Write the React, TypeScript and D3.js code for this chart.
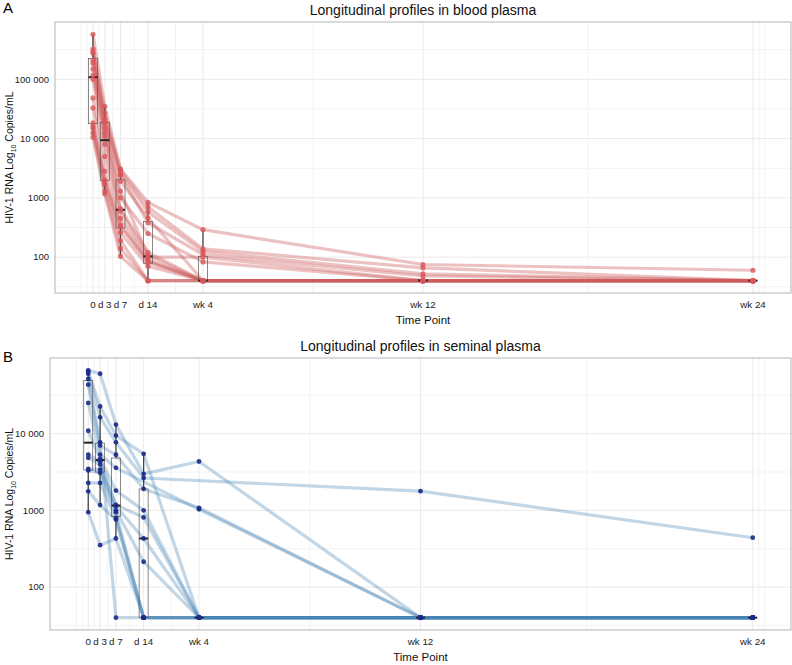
import React from "react";
import * as d3 from "d3";

// ---- data ----
const timeLabels = ["0", "d 3", "d 7", "d 14", "wk 4", "wk 12", "wk 24"];
const timeDays = [0, 3, 7, 14, 28, 84, 168];

// blood plasma: one row per participant, values at each time point (copies/mL)
const bloodPlasma: (number | null)[][] = [
  [575000, 35000, 3100, 837, 290, 75, 60],
  [324000, 27000, 2900, 700, 138, 66, 40],
  [290000, 22000, 2600, 580, 125, 52, 40],
  [278000, 19500, 2400, 380, 110, 48, 40],
  [210000, 18500, 1900, 460, 40, 40, 40],
  [187000, 15000, 1000, 250, 83, 40, 40],
  [150000, 12500, 1300, 106, 40, 40, 40],
  [118000, 11000, 660, 120, 40, 40, 40],
  [100000, 8000, 600, 100, 100, 40, 40],
  [48500, 5000, 450, 90, 40, 40, 40],
  [33000, 2800, 350, 85, 40, 40, 40],
  [18400, 2000, 330, 82, 40, 40, 40],
  [16300, 1900, 260, 70, 40, 40, 40],
  [15000, 1700, 190, 40, 40, 40, 40],
  [12500, 1300, 140, 40, 40, 40, 40],
  [10500, 1170, 103, 40, 40, 40, 40],
];

// seminal plasma
const seminalPlasma: (number | null)[][] = [
  [66700, 60300, 13100, 2990, 4330, 40, 40],
  [64100, 22600, 9420, 5450, 40, 40, 40],
  [60300, 16300, 7710, 2640, null, 1780, 440],
  [51600, 7710, 40, 40, 40, 40, 40],
  [43400, 6980, 5300, 1900, 1080, 40, 40],
  [25100, 5330, 3580, null, 1030, 40, 40],
  [10900, 4680, 1810, 1000, 40, 40, 40],
  [5330, 4360, 1180, 810, 40, 40, 40],
  [4830, 3950, 1130, 430, 40, 40, 40],
  [3470, 3400, 1000, 214, 40, 40, 40],
  [3310, 3080, 946, 40, 40, 40, 40],
  [2280, 2280, 795, 40, 40, 40, 40],
  [1770, 1170, 760, 40, 40, 40, 40],
  [946, 352, 430, 40, 40, 40, 40],
];

const bloodYTicks = [100, 1000, 10000, 100000];
const seminalYTicks = [100, 1000, 10000];

// ---- helpers ----
const FONT = "'Liberation Sans', Arial, Helvetica, sans-serif";

function minorBreaks(b: number[], lo: number, hi: number) {
  const bd = b[1] - b[0];
  let bb = [...b];
  if (lo < bb[0]) bb = [bb[0] - bd, ...bb];
  if (hi > bb[bb.length - 1]) bb = [...bb, bb[bb.length - 1] + bd];
  const out: number[] = [];
  for (let i = 0; i < bb.length - 1; i++) out.push(bb[i], (bb[i] + bb[i + 1]) / 2);
  out.push(bb[bb.length - 1]);
  return out.filter((v) => v >= lo && v <= hi && !b.includes(v));
}

function fmt(v: number) {
  return v >= 10000 ? d3.format(",")(v).replace(/,/g, " ") : String(v);
}

type PanelCfg = {
  letter: string;
  letterY: number;
  title: string;
  data: (number | null)[][];
  yTicks: number[];
  left: number;
  right: number;
  top: number;
  bottom: number;
  lineColor: string;
  lineOpacity: number;
  pointColor: string;
  pointOpacity: number;
  pointR: number;
};

function Panel({ cfg }: { cfg: PanelCfg }) {
  const { data, left, right, top, bottom } = cfg;
  const xPad = 9.67;
  const x = d3
    .scaleLinear()
    .domain([d3.min(timeDays)! - xPad, d3.max(timeDays)! + xPad])
    .range([left, right]);
  const all = data.flat().filter((v) => v != null) as number[];
  const lmin = Math.log10(d3.min(all)!);
  const lmax = Math.log10(d3.max(all)!);
  const lpad = (lmax - lmin) * 0.05;
  const y = d3
    .scaleLog()
    .domain([Math.pow(10, lmin - lpad), Math.pow(10, lmax + lpad)])
    .range([bottom, top]);
  const [xlo, xhi] = x.domain();
  const xMinor = minorBreaks(timeDays, xlo, xhi);
  const logTicks = cfg.yTicks.map((t) => Math.log10(t));
  const yMinor = minorBreaks(logTicks, lmin - lpad, lmax + lpad);

  const line = d3
    .line<[number, number]>()
    .x((d) => x(d[0]))
    .y((d) => y(d[1]));

  const boxHalf = 4.5;
  const boxes = timeDays.map((t, i) => {
    const vals = data.map((r) => r[i]).filter((v) => v != null) as number[];
    const lv = vals.map((v) => Math.log10(v)).sort(d3.ascending);
    const q1 = d3.quantile(lv, 0.25)!;
    const med = d3.quantile(lv, 0.5)!;
    const q3 = d3.quantile(lv, 0.75)!;
    const iqr = q3 - q1;
    const hiW = d3.max(lv.filter((v) => v <= q3 + 1.5 * iqr + 1e-9))!;
    const loW = d3.min(lv.filter((v) => v >= q1 - 1.5 * iqr - 1e-9))!;
    const p = (l: number) => y(Math.pow(10, l));
    return { cx: x(t), q1: p(q1), med: p(med), q3: p(q3), hiW: p(hiW), loW: p(loW) };
  });

  const cxMid = (left + right) / 2;
  const cyMid = (top + bottom) / 2;

  return (
    <g>
      <text x={3} y={cfg.letterY} fontSize={15} fontFamily={FONT} fill="#000">
        {cfg.letter}
      </text>
      <text x={cxMid} y={top - 7} fontSize={14} fontFamily={FONT} textAnchor="middle" fill="#111">
        {cfg.title}
      </text>
      {/* grid */}
      {yMinor.map((l, i) => (
        <line key={"ym" + i} x1={left} x2={right} y1={y(Math.pow(10, l))} y2={y(Math.pow(10, l))} stroke="#F3F3F3" strokeWidth={1} />
      ))}
      {xMinor.map((d, i) => (
        <line key={"xm" + i} x1={x(d)} x2={x(d)} y1={top} y2={bottom} stroke="#F3F3F3" strokeWidth={1} />
      ))}
      {cfg.yTicks.map((t, i) => (
        <line key={"yM" + i} x1={left} x2={right} y1={y(t)} y2={y(t)} stroke="#EAEAEA" strokeWidth={1} />
      ))}
      {timeDays.map((d, i) => (
        <line key={"xM" + i} x1={x(d)} x2={x(d)} y1={top} y2={bottom} stroke="#EAEAEA" strokeWidth={1} />
      ))}
      {/* subject lines */}
      {data.map((row, si) => {
        const pts = row
          .map((v, i) => [timeDays[i], v] as [number, number | null])
          .filter((p) => p[1] != null) as [number, number][];
        return (
          <path
            key={"l" + si}
            d={line(pts)!}
            fill="none"
            stroke={cfg.lineColor}
            strokeOpacity={cfg.lineOpacity}
            strokeWidth={3.2}
            strokeLinejoin="round"
          />
        );
      })}
      {/* boxes */}
      {boxes.map((b, i) => (
        <g key={"b" + i}>
          <line x1={b.cx} x2={b.cx} y1={b.q3} y2={b.hiW} stroke="#444" strokeWidth={1.3} />
          <line x1={b.cx} x2={b.cx} y1={b.q1} y2={b.loW} stroke="#444" strokeWidth={1.3} />
          <rect
            x={b.cx - boxHalf}
            y={b.q3}
            width={boxHalf * 2}
            height={Math.max(0, b.q1 - b.q3)}
            fill="none"
            stroke="#555"
            strokeWidth={0.7}
          />
          <line x1={b.cx - boxHalf} x2={b.cx + boxHalf} y1={b.med} y2={b.med} stroke="#222" strokeWidth={2} />
        </g>
      ))}
      {/* points */}
      {data.map((row, si) =>
        row.map((v, i) =>
          v == null ? null : (
            <circle
              key={"p" + si + "-" + i}
              cx={x(timeDays[i])}
              cy={y(v)}
              r={cfg.pointR}
              fill={cfg.pointColor}
              fillOpacity={cfg.pointOpacity}
            />
          )
        )
      )}
      {/* border */}
      <rect x={left} y={top} width={right - left} height={bottom - top} fill="none" stroke="#B3B3B3" strokeWidth={1} />
      {/* y tick labels */}
      {cfg.yTicks.map((t, i) => (
        <text key={"yt" + i} x={left - 6} y={y(t)} dy="0.35em" textAnchor="end" fontSize={9.5} fontFamily={FONT} fill="#222">
          {fmt(t)}
        </text>
      ))}
      {/* x tick labels */}
      {timeDays.map((d, i) => (
        <text key={"xt" + i} x={x(d)} y={bottom + 15} textAnchor="middle" fontSize={9.8} fontFamily={FONT} fill="#222">
          {timeLabels[i]}
        </text>
      ))}
      <text x={cxMid} y={bottom + 31} textAnchor="middle" fontSize={11.5} fontFamily={FONT} fill="#111">
        Time Point
      </text>
      <text transform={`translate(13,${cyMid}) rotate(-90)`} textAnchor="middle" fontSize={10.5} fontFamily={FONT} fill="#111">
        HIV-1 RNA Log
        <tspan fontSize={7} dy={3}>10</tspan>
        <tspan dy={-3}> Copies/mL</tspan>
      </text>
    </g>
  );
}

export default function App() {
  const panelA: PanelCfg = {
    letter: "A",
    letterY: 13,
    title: "Longitudinal profiles in blood plasma",
    data: bloodPlasma,
    yTicks: bloodYTicks,
    left: 55,
    right: 791,
    top: 22,
    bottom: 293,
    lineColor: "#CD5C5C",
    lineOpacity: 0.38,
    pointColor: "#D9575B",
    pointOpacity: 0.8,
    pointR: 2.6,
  };
  const panelB: PanelCfg = {
    letter: "B",
    letterY: 362,
    title: "Longitudinal profiles in seminal plasma",
    data: seminalPlasma,
    yTicks: seminalYTicks,
    left: 50,
    right: 791,
    top: 358,
    bottom: 630,
    lineColor: "#4682B4",
    lineOpacity: 0.33,
    pointColor: "#1B2A8A",
    pointOpacity: 0.9,
    pointR: 2.4,
  };
  return (
    <svg
      width={792}
      height={665}
      style={{ position: "absolute", left: 0, top: 0, background: "#fff" }}
    >
      <rect width={792} height={665} fill="#fff" />
      <Panel cfg={panelA} />
      <Panel cfg={panelB} />
    </svg>
  );
}
